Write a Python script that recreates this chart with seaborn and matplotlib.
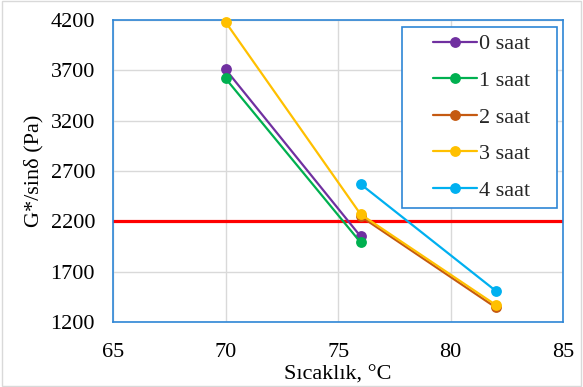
import matplotlib
matplotlib.use("Agg")
import matplotlib.pyplot as plt
import matplotlib.patches as mpatches
import seaborn as sns
import pandas as pd
import numpy as np

series_names = ["0 saat", "1 saat", "2 saat", "3 saat", "4 saat"]
temps_0 = [70, 76]
vals_0 = [3710, 2050]
temps_1 = [70, 76]
vals_1 = [3620, 1990]
temps_2 = [76, 82]
vals_2 = [2250, 1345]
temps_3 = [70, 76, 82]
vals_3 = [4180, 2270, 1370]
temps_4 = [76, 82]
vals_4 = [2570, 1510]
threshold = 2200
colors = ["#7030A0", "#00B050", "#C55A11", "#FFC000", "#00B0F0"]

xticks = [65, 70, 75, 80, 85]
yticks = [1200, 1700, 2200, 2700, 3200, 3700, 4200]

frames = []
for name, t, v in zip(series_names,
                      [temps_0, temps_1, temps_2, temps_3, temps_4],
                      [vals_0, vals_1, vals_2, vals_3, vals_4]):
    frames.append(pd.DataFrame({"T": t, "G": v, "s": name}))
df = pd.concat(frames, ignore_index=True)

sns.set_theme(style="white")
plt.rcParams["font.family"] = ["Liberation Serif", "DejaVu Serif"]
SERIF = ["Liberation Serif", "DejaVu Serif"]

fig = plt.figure(figsize=(5.83, 3.87), dpi=100)
ax = fig.add_axes([0.194, 0.168, 0.772, 0.780])

ax.axhline(threshold, color="#FF0000", lw=2.3, zorder=2)

for name, col in zip(series_names, colors):
    sub = df[df["s"] == name]
    sns.lineplot(data=sub, x="T", y="G", ax=ax, color=col, marker="o",
                 markersize=7.8, markeredgewidth=0, lw=1.6, label=name,
                 zorder=3, clip_on=False)

ax.set_xlim(65, 85)
ax.set_ylim(1200, 4200)
ax.set_xticks(xticks)
ax.set_yticks(yticks)
ax.grid(True, color="#D9D9D9", lw=1.0)
ax.set_axisbelow(True)
for sp in ax.spines.values():
    sp.set_color("#2E86D6")
    sp.set_linewidth(1.2)
ax.tick_params(axis="y", labelsize=16, colors="black", length=0, pad=13)
ax.tick_params(axis="x", labelsize=16, colors="black", length=0, pad=15)
for lab in ax.get_xticklabels() + ax.get_yticklabels():
    lab.set_family(SERIF)
ax.set_xlabel("Sıcaklık, °C", fontsize=16, color="black", labelpad=3, family=SERIF)
ax.set_ylabel("G*/sinδ (Pa)", fontsize=16, color="black", labelpad=5, family=SERIF)

# legend frame (Excel-style wide box)
frame = mpatches.Rectangle((0.642, 0.377), 0.345, 0.600, transform=ax.transAxes,
                           facecolor="white", edgecolor="#2E86D6", lw=1.2, zorder=5)
ax.add_patch(frame)
leg = ax.legend(loc="center", bbox_to_anchor=(0.819, 0.678),
                prop={"family": SERIF, "size": 16},
                frameon=False, borderpad=0, handlelength=2.0,
                handletextpad=0.1, labelspacing=0.72, borderaxespad=0)
for t in leg.get_texts():
    t.set_family(SERIF)
leg.set_zorder(6)

fig.patches.append(mpatches.Rectangle((0.003, 0.003), 0.994, 0.994,
                   transform=fig.transFigure, fill=False, edgecolor="#D9D9D9", lw=1))

fig.savefig("out.png", dpi=100)
